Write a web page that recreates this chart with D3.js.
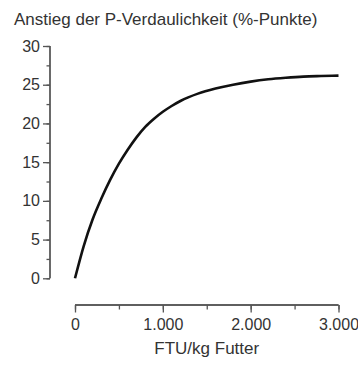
<!DOCTYPE html>
<html>
<head>
<meta charset="utf-8">
<script src="https://cdn.jsdelivr.net/npm/d3@7"></script>
<style>
  body { margin: 0; background: #fff; }
  text { font-family: "Liberation Sans", Arial, sans-serif; fill: #333; }
</style>
</head>
<body>
<div id="chart"></div>
<script>
// FTU/kg Futter vs. Anstieg der P-Verdaulichkeit (%-Punkte)
const ftu = [0, 100, 200, 300, 400, 500, 600, 700, 800, 900, 1000, 1100, 1200, 1400, 1600, 1800, 2000, 2200, 2400, 2600, 2800, 3000];
const anstieg = [0, 4.2, 7.6, 10.3, 12.7, 14.8, 16.6, 18.2, 19.55, 20.6, 21.5, 22.25, 22.9, 23.85, 24.5, 25.0, 25.4, 25.7, 25.9, 26.05, 26.12, 26.17];
const yTicks = [0, 5, 10, 15, 20, 25, 30];
const xTicks = [0, 1000, 2000, 3000];

const W = 358, H = 367;
const svg = d3.select("#chart").append("svg")
    .attr("width", W).attr("height", H);

const x = d3.scaleLinear().domain([0, 3000]).range([75, 338.5]);
const y = d3.scaleLinear().domain([0, 30]).range([278.3, 46]);

const axisColor = "#555";
const fmt = d3.formatLocale({ decimal: ",", thousands: ".", grouping: [3], currency: ["", "€"] }).format(",d");

// title
svg.append("text")
    .attr("x", 14).attr("y", 25)
    .style("font-size", "17px")
    .text("Anstieg der P-Verdaulichkeit (%-Punkte)");

// y axis
const yAxis = svg.append("g").attr("transform", "translate(50,0)");
yAxis.call(d3.axisLeft(y).tickValues(d3.range(0, 30.1, 2.5)).tickSize(3.5).tickFormat(""));
yAxis.append("g").call(d3.axisLeft(y).tickValues(yTicks).tickSize(7).tickPadding(3));
yAxis.selectAll(".domain").attr("stroke", axisColor).attr("stroke-width", 1.3);
yAxis.selectAll("line").attr("stroke", axisColor).attr("stroke-width", 1.3);
yAxis.selectAll("text").style("font-size", "16px").attr("fill", "#333");
yAxis.selectAll(".domain").attr("d", `M0,${y(30)}V${y(0)}`);

// x axis
const xAxis = svg.append("g").attr("transform", "translate(0,305)");
xAxis.call(d3.axisBottom(x).tickValues(d3.range(0, 3001, 500)).tickSize(4.5).tickFormat(""));
xAxis.append("g").call(d3.axisBottom(x).tickValues(xTicks).tickSize(7.5).tickPadding(6).tickFormat(fmt));
xAxis.selectAll(".domain").attr("stroke", axisColor).attr("stroke-width", 1.3);
xAxis.selectAll("line").attr("stroke", axisColor).attr("stroke-width", 1.3);
xAxis.selectAll("text").style("font-size", "16px").attr("fill", "#333");
xAxis.selectAll(".domain").attr("d", `M${x(0)},0H${x(3000)}`);

svg.append("text")
    .attr("x", (x(0) + x(3000)) / 2).attr("y", 354)
    .attr("text-anchor", "middle")
    .style("font-size", "17px")
    .text("FTU/kg Futter");

// curve
const line = d3.line()
    .x((d, i) => x(ftu[i]))
    .y(d => y(d))
    .curve(d3.curveMonotoneX);

svg.append("path")
    .datum(anstieg)
    .attr("fill", "none")
    .attr("stroke", "#111")
    .attr("stroke-width", 2.6)
    .attr("d", line);
</script>
</body>
</html>
